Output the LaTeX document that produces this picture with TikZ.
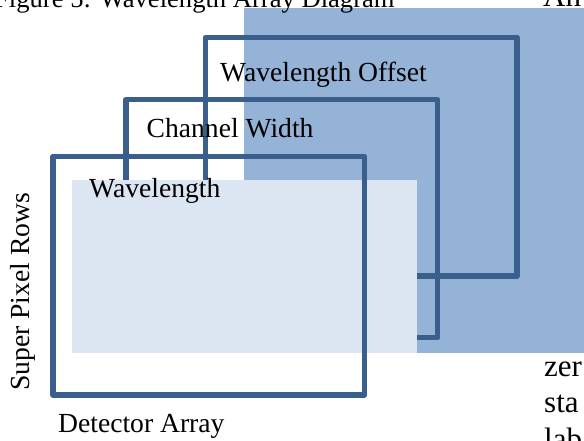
\documentclass[tikz,border=0pt]{standalone}
\usepackage{fontspec}
\setmainfont{Liberation Serif}
\definecolor{lineblue}{HTML}{3A5F8D}
\definecolor{darkfill}{HTML}{95B3D7}
\definecolor{lightfill}{HTML}{DCE6F2}
\begin{document}
\begin{tikzpicture}[x=1pt,y=-1pt,
		boxline/.style={draw=lineblue,line width=5.5pt,line join=round},
		lbl/.style={inner sep=0pt,anchor=base west,font=\fontsize{27.6}{33}\selectfont},
		pagetext/.style={lbl,font=\fontsize{31}{37}\selectfont}]
		\clip (0,0) rectangle (584,440);
		% shaded areas and frames, back to front
		\coordinate (D1) at (244.3,8);
		\coordinate (D2) at (584,352.7);
		\coordinate (L1) at (71.7,180);
		\coordinate (L2) at (417,352.7);
		\coordinate (F1) at (205.5,37.5);
		\coordinate (F2) at (517,276);
		\coordinate (C1) at (126,99.5);
		\coordinate (C2) at (437.7,337.7);
		\coordinate (W1) at (53,156.5);
		\coordinate (W2) at (364.7,394.8);
		\fill[darkfill] (D1) rectangle (D2);
		\draw[boxline] (F1) rectangle (F2);
		\draw[boxline] (C1) rectangle (C2);
		\fill[lightfill] (L1) rectangle (L2);
		\draw[boxline] (W1) rectangle (W2);
		% labels
		\node[lbl] (offset) at (220,81) {Wavelength Offset};
		\node[lbl] (width) at (146.5,137) {Channel Width};
		\node[lbl] (wave) at (89,197) {Wavelength};
		\node[lbl] (detector) at (58,432) {Detector Array};
		\node[lbl,rotate=90] (rows) at (29,391) {Super Pixel Rows};
		% surrounding page text
		\node[lbl,font=\fontsize{26.6}{32}\selectfont] (caption) at (-6,7) {Figure 5: Wavelength Array Diagram};
		\node[pagetext] (an) at (543,6) {An};
		\node[pagetext] (zer) at (544,376) {zer};
		\node[pagetext] (sta) at (544,412.7) {sta};
		\node[pagetext] (lab) at (544,449.4) {lab};
	\end{tikzpicture}
\end{document}
